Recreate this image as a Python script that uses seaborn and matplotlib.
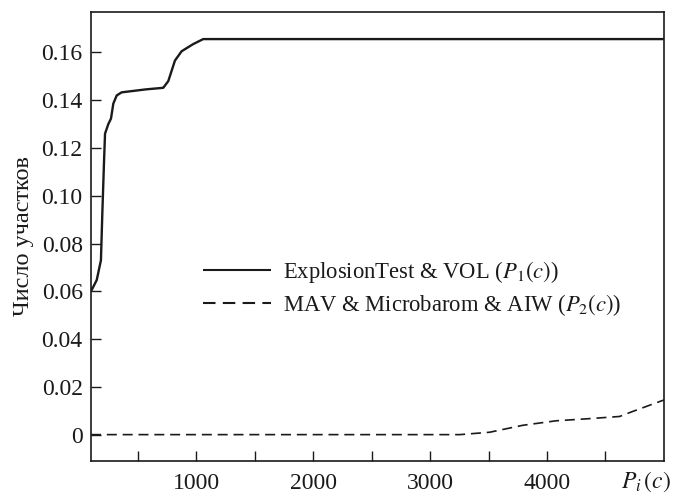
import numpy as np
import pandas as pd
import matplotlib
matplotlib.use("Agg")
import matplotlib.pyplot as plt
import seaborn as sns

# values
p1_x = [100, 149, 185, 197, 211, 220, 248, 271, 291, 320, 362, 562, 604, 718,
        761, 818, 875, 974, 1060, 5000]
p1_y = [0.060, 0.0647, 0.073, 0.0927, 0.1136, 0.126, 0.130, 0.1323, 0.1386, 0.142,
        0.1433, 0.1445, 0.1447, 0.1452, 0.148, 0.1566, 0.1605, 0.1635, 0.1656, 0.1656]
p2_x = [100, 3254, 3510, 3792, 4080, 4365, 4621, 4733, 5000]
p2_y = [0.0, 0.0, 0.001, 0.0039, 0.0058, 0.0067, 0.0076, 0.0097, 0.0145]

label1 = r"ExplosionTest & VOL ($P_1(c)$)"
label2 = r"MAV & Microbarom & AIW ($P_2(c)$)"
x_ticks = [500, 1000, 1500, 2000, 2500, 3000, 3500, 4000, 4500]
x_labels = ["", "1000", "", "2000", "", "3000", "", "4000", ""]
y_ticks = [0, 0.02, 0.04, 0.06, 0.08, 0.10, 0.12, 0.14, 0.16]
y_labels = ["0", "0.02", "0.04", "0.06", "0.08", "0.10", "0.12", "0.14", "0.16"]

df = pd.concat([
    pd.DataFrame({"x": p1_x, "y": p1_y, "series": label1}),
    pd.DataFrame({"x": p2_x, "y": p2_y, "series": label2}),
])

sns.set_theme(style="ticks")
plt.rcParams["font.family"] = ["Liberation Serif", "DejaVu Serif"]
plt.rcParams["mathtext.fontset"] = "stix"

fig, ax = plt.subplots(figsize=(6.74, 4.94), dpi=100)
fig.subplots_adjust(left=0.135, right=0.985, top=0.976, bottom=0.067)

sns.lineplot(data=df, x="x", y="y", hue="series", style="series",
             palette=["#1a1a1a", "#1a1a1a"], dashes=[(1, 0), (6, 3.5)],
             ax=ax, legend=True)
for line, lw in zip(ax.lines, [1.7, 1.2]):
    line.set_linewidth(lw)

ax.set_xlim(100, 5000)
ax.set_ylim(-0.011, 0.177)
ax.set_xticks(x_ticks)
ax.set_xticklabels(x_labels)
ax.set_yticks(y_ticks)
ax.set_yticklabels(y_labels)
ax.tick_params(direction="in", length=7, width=1, color="#1a1a1a",
               labelsize=17, labelcolor="#1a1a1a", left=True, bottom=True)
ax.tick_params(axis="x", pad=9)
ax.tick_params(axis="y", pad=6)
for s in ax.spines.values():
    s.set_color("#1a1a1a")
    s.set_linewidth(1.2)

ax.set_xlabel("")
ax.set_ylabel("Число участков", fontsize=17.5, color="#1a1a1a", labelpad=5)
ax.text(1.013, -0.047, r"$P_i\,(c)$", transform=ax.transAxes, fontsize=17,
        ha="right", va="center", color="#1a1a1a")

h, l = ax.get_legend_handles_labels()
for hd in h:
    hd.set_linewidth(1.5)
ax.legend(h, l, loc="upper left", bbox_to_anchor=(0.16, 0.495), frameon=False,
          fontsize=16.3, handlelength=3.0, handletextpad=0.55, labelspacing=0.3,
          labelcolor="#1a1a1a")

plt.savefig("out.png", dpi=100)
